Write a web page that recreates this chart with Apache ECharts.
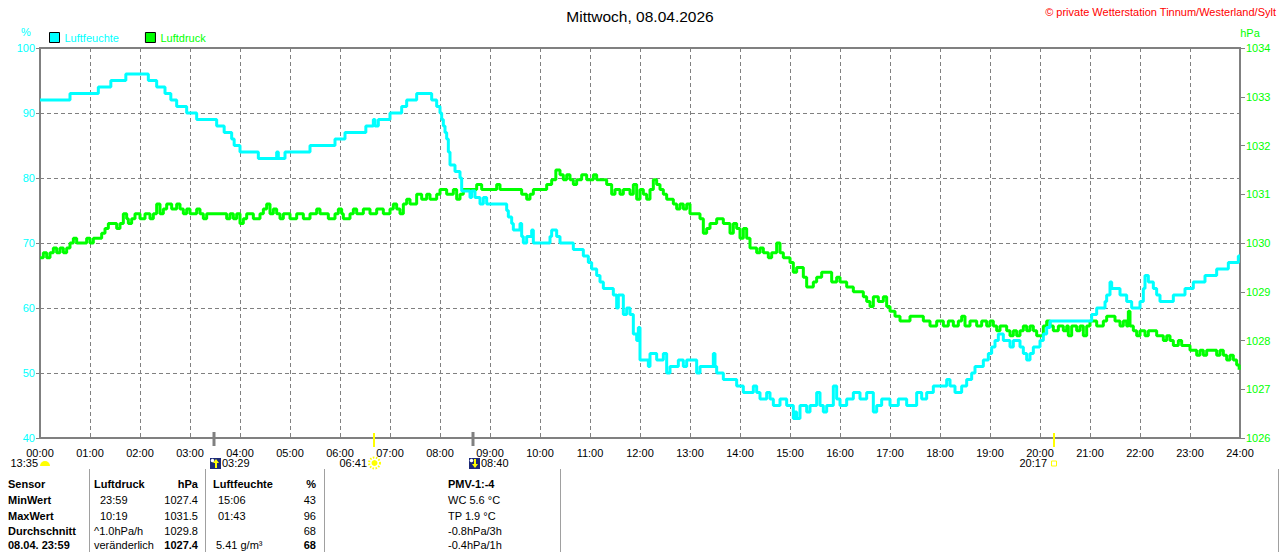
<!DOCTYPE html>
<html>
<head>
    <meta charset="UTF-8"/>
    <script type="text/javascript" src="https://cdn.jsdelivr.net/npm/echarts@6/dist/echarts.min.js"></script>
    <title>Mittwoch, 08.04.2026</title>
    <style>
        html, body { margin: 0; padding: 0; background: #fff; }
        #chart { width: 1280px; height: 552px; }
    </style>
</head>
<body>
<div id="chart"></div>

<script type="application/javascript">
    // x-Achse in Minuten seit 00:00
    var hourLabels = ['00:00', '01:00', '02:00', '03:00', '04:00', '05:00', '06:00', '07:00', '08:00',
        '09:00', '10:00', '11:00', '12:00', '13:00', '14:00', '15:00', '16:00', '17:00', '18:00',
        '19:00', '20:00', '21:00', '22:00', '23:00', '24:00'];

    // Luftfeuchte [Minute, %]
    var humidityData = [[0,92],[36,93],[70,94],[85,95],[103,96],[130,95],[140,94],[150,93],[157,92],[164,91],
        [176,90],[188,89],[212,88],[221,87],[230,86],[233,85],[240,84],[262,83],[284,84],[286,83],[294,84],
        [324,85],[354,86],[366,87],[391,88],[400,89],[402,88],[406,89],[420,90],[434,91],[440,92],[452,93],
        [470,92],[476,91],[480,90],[482,89],[484,88],[486,87],[488,86],[490,84],[492,82],[498,81],[504,80],
        [506,78],[516,77],[518,78],[522,77],[528,76],[532,77],[536,76],[560,75],[562,74],[566,73],[568,72],
        [576,73],[578,71],[580,70],[584,71],[590,72],[592,70],[612,71],[614,72],[620,71],[624,70],[640,69],
        [652,68],[658,67],[662,66],[668,65],[672,64],[676,63],[688,62],[692,60],[694,62],[700,59],[704,60],
        [708,59],[712,56],[716,55],[718,57],[720,52],[730,51],[732,53],[740,52],[748,53],[752,50],[756,51],
        [766,52],[772,51],[776,52],[788,50],[792,51],[808,53],[810,51],[812,50],[820,49],[836,48],[844,47],
        [856,48],[860,47],[864,46],[872,47],[876,46],[880,45],[888,46],[896,45],[904,43],[906,44],[908,43],
        [912,45],[920,44],[924,45],[932,47],[936,45],[940,44],[944,45],[952,48],[956,46],[960,45],[968,46],
        [976,47],[984,46],[992,47],[1000,44],[1004,45],[1010,46],[1020,45],[1030,46],[1040,45],[1052,47],
        [1058,46],[1064,47],[1072,48],[1088,49],[1092,48],[1098,47],[1106,48],[1112,49],[1118,50],[1122,51],
        [1132,52],[1138,53],[1142,54],[1146,55],[1150,56],[1156,55],[1164,54],[1168,55],[1176,54],[1180,53],
        [1184,52],[1188,53],[1192,54],[1200,55],[1204,56],[1208,57],[1212,58],[1262,59],[1268,60],[1278,61],
        [1280,62],[1284,64],[1286,63],[1296,62],[1304,61],[1310,60],[1320,61],[1324,63],[1326,65],[1330,64],
        [1336,63],[1340,62],[1344,61],[1360,62],[1374,63],[1384,64],[1398,65],[1412,66],[1426,67],[1438,68],
        [1440,68]];

    // Luftdruck [Minute, hPa]
    var pressureData = [[0,1029.7],[4,1029.8],[8,1029.7],[12,1029.8],[16,1029.9],[20,1029.8],[24,1029.9],
        [28,1029.8],[32,1029.9],[36,1030.0],[40,1030.1],[44,1030.0],[56,1030.1],[60,1030.0],[64,1030.1],
        [74,1030.2],[78,1030.3],[82,1030.4],[92,1030.3],[96,1030.4],[100,1030.6],[104,1030.5],[106,1030.4],
        [110,1030.5],[114,1030.6],[120,1030.5],[126,1030.6],[132,1030.5],[136,1030.6],[140,1030.8],
        [144,1030.6],[148,1030.7],[152,1030.8],[158,1030.7],[164,1030.8],[168,1030.7],[172,1030.6],
        [176,1030.7],[180,1030.6],[188,1030.7],[192,1030.6],[196,1030.5],[200,1030.6],[224,1030.5],
        [228,1030.6],[232,1030.5],[236,1030.6],[240,1030.4],[244,1030.5],[248,1030.6],[256,1030.5],
        [264,1030.6],[268,1030.7],[272,1030.8],[276,1030.6],[280,1030.7],[284,1030.6],[288,1030.5],
        [292,1030.6],[300,1030.5],[308,1030.6],[316,1030.5],[324,1030.6],[332,1030.7],[336,1030.6],
        [346,1030.5],[354,1030.6],[358,1030.7],[362,1030.6],[364,1030.5],[372,1030.6],[376,1030.7],
        [380,1030.6],[388,1030.7],[396,1030.6],[404,1030.7],[412,1030.6],[420,1030.7],[424,1030.8],
        [428,1030.7],[432,1030.6],[436,1030.8],[440,1030.9],[444,1030.8],[452,1031.0],[458,1030.9],
        [464,1031.0],[468,1030.9],[476,1031.0],[480,1031.1],[488,1031.0],[496,1031.1],[500,1030.9],
        [504,1031.0],[508,1031.1],[524,1031.2],[530,1031.1],[548,1031.2],[552,1031.1],[578,1031.0],
        [584,1030.9],[588,1031.0],[592,1031.1],[608,1031.2],[614,1031.3],[619,1031.5],[624,1031.4],
        [628,1031.3],[632,1031.4],[636,1031.3],[640,1031.2],[644,1031.3],[650,1031.4],[656,1031.3],
        [664,1031.4],[668,1031.3],[680,1031.2],[686,1031.0],[690,1031.1],[696,1031.0],[700,1031.1],
        [708,1031.0],[712,1031.2],[716,1030.9],[720,1031.1],[724,1031.0],[728,1030.9],[732,1031.1],
        [736,1031.3],[740,1031.2],[744,1031.1],[748,1031.0],[752,1030.9],[760,1030.8],[764,1030.7],
        [768,1030.8],[772,1030.7],[776,1030.8],[780,1030.6],[792,1030.5],[796,1030.2],[800,1030.3],
        [804,1030.4],[812,1030.5],[820,1030.4],[828,1030.2],[832,1030.4],[836,1030.3],[840,1030.1],
        [844,1030.3],[848,1030.1],[852,1029.9],[860,1029.8],[864,1029.9],[868,1029.8],[874,1029.7],
        [878,1029.8],[884,1030.0],[888,1029.8],[892,1029.7],[900,1029.6],[904,1029.4],[908,1029.5],
        [916,1029.3],[920,1029.1],[928,1029.2],[932,1029.3],[938,1029.4],[950,1029.2],[956,1029.3],
        [960,1029.2],[968,1029.1],[976,1029.0],[988,1028.9],[992,1028.8],[996,1028.7],[1000,1028.9],
        [1006,1028.8],[1012,1028.9],[1016,1028.7],[1020,1028.6],[1026,1028.5],[1032,1028.4],[1044,1028.5],
        [1060,1028.4],[1068,1028.3],[1076,1028.4],[1084,1028.3],[1090,1028.4],[1096,1028.3],[1102,1028.4],
        [1106,1028.5],[1110,1028.3],[1116,1028.4],[1124,1028.3],[1130,1028.4],[1136,1028.3],[1140,1028.4],
        [1144,1028.3],[1148,1028.2],[1152,1028.3],[1160,1028.2],[1164,1028.1],[1168,1028.2],[1172,1028.1],
        [1176,1028.2],[1180,1028.3],[1184,1028.2],[1188,1028.3],[1192,1028.2],[1196,1028.1],[1204,1028.3],
        [1208,1028.4],[1212,1028.3],[1216,1028.2],[1222,1028.3],[1228,1028.2],[1232,1028.3],[1234,1028.1],
        [1238,1028.3],[1244,1028.2],[1248,1028.3],[1252,1028.1],[1256,1028.3],[1260,1028.4],[1268,1028.3],
        [1276,1028.4],[1280,1028.5],[1290,1028.4],[1296,1028.3],[1300,1028.4],[1304,1028.3],[1306,1028.6],
        [1308,1028.3],[1312,1028.2],[1316,1028.1],[1320,1028.2],[1326,1028.1],[1330,1028.2],[1340,1028.1],
        [1348,1028.0],[1352,1028.1],[1356,1028.0],[1360,1027.9],[1366,1028.0],[1370,1027.9],[1380,1027.8],
        [1388,1027.7],[1392,1027.8],[1396,1027.7],[1400,1027.8],[1412,1027.7],[1416,1027.8],[1420,1027.7],
        [1424,1027.6],[1428,1027.7],[1432,1027.6],[1436,1027.5],[1439,1027.4]];

    // Sonne / Mond
    var dayLength = '13:35';
    var sunTimes = ['06:41', '20:17'];
    var moonTimes = ['03:29', '08:40'];

    // Tabelle unten
    var rowNames = ['MinWert', 'MaxWert', 'Durchschnitt', '08.04. 23:59'];
    var pressureCol = [['23:59', '1027.4'], ['10:19', '1031.5'], ['^1.0hPa/h', '1029.8'], ['veränderlich', '1027.4']];
    var humidityCol = [['15:06', '43'], ['01:43', '96'], ['', '68'], ['5.41 g/m³', '68']];
    var extraCol = ['PMV-1:-4', 'WC 5.6 °C', 'TP 1.9 °C', '-0.8hPa/3h', '-0.4hPa/1h'];

    var FONT = '"Liberation Sans", Arial, sans-serif';
    var CYAN = '#00ffff';
    var GREEN = '#00ff00';
    var GRAY = '#808080';
    var YELLOW = '#ffff00';

    function toMin(t) {
        var p = t.split(':');
        return parseInt(p[0], 10) * 60 + parseInt(p[1], 10);
    }

    var myChart = echarts.init(document.getElementById('chart'), null, {renderer: 'svg'});

    var option = {
        animation: false,
        backgroundColor: '#fff',
        title: {
            text: 'Mittwoch, 08.04.2026',
            left: 'center',
            top: 3,
            textStyle: {color: '#000', fontWeight: 'normal', fontSize: 15.5, fontFamily: FONT}
        },
        legend: {
            left: 44,
            top: 27,
            icon: 'rect',
            itemWidth: 10,
            itemHeight: 10,
            itemGap: 26,
            textStyle: {fontSize: 11, fontFamily: FONT},
            itemStyle: {borderColor: '#000', borderWidth: 1},
            data: [
                {name: 'Luftfeuchte', textStyle: {color: CYAN}},
                {name: 'Luftdruck', textStyle: {color: GREEN}}
            ]
        },
        grid: {
            left: 40, right: 40, top: 48, bottom: 114,
            show: true, borderColor: GRAY, borderWidth: 2
        },
        xAxis: {
            type: 'value',
            min: 0, max: 1440, interval: 60,
            axisLine: {lineStyle: {color: GRAY, width: 2}},
            axisTick: {show: false},
            axisLabel: {
                color: '#000', fontSize: 11, fontFamily: FONT, margin: 9,
                formatter: function (v) { return hourLabels[v / 60]; }
            },
            splitLine: {show: true, lineStyle: {color: GRAY, type: [4, 3], width: 1}}
        },
        yAxis: [
            {
                type: 'value', position: 'left',
                min: 40, max: 100, interval: 10,
                axisLine: {show: true, lineStyle: {color: GRAY, width: 2}},
                axisTick: {show: true, length: 4, lineStyle: {color: GRAY}},
                axisLabel: {color: CYAN, fontSize: 11, fontFamily: FONT, margin: 5,
                    formatter: function (v) { return String(v); }},
                splitLine: {show: true, lineStyle: {color: GRAY, type: [4, 3], width: 1}}
            },
            {
                type: 'value', position: 'right',
                min: 1026, max: 1034, interval: 1,
                axisLine: {show: true, lineStyle: {color: GRAY, width: 2}},
                axisTick: {show: true, length: 5, lineStyle: {color: GRAY}},
                axisLabel: {color: GREEN, fontSize: 11, fontFamily: FONT, margin: 6,
                    formatter: function (v) { return String(v); }},
                splitLine: {show: false}
            }
        ],
        series: [
            {
                name: 'Luftfeuchte',
                type: 'line',
                yAxisIndex: 0,
                step: 'end',
                showSymbol: false,
                symbol: 'none',
                z: 3,
                color: CYAN,
                itemStyle: {color: CYAN},
                lineStyle: {color: CYAN, width: 3},
                data: humidityData
            },
            {
                name: 'Luftdruck',
                type: 'line',
                yAxisIndex: 1,
                step: 'end',
                showSymbol: false,
                symbol: 'none',
                z: 2,
                color: GREEN,
                itemStyle: {color: GREEN},
                lineStyle: {color: GREEN, width: 3},
                data: pressureData
            }
        ]
    };
    myChart.setOption(option);

    // Zusatzelemente: Einheiten, Copyright, Sonne/Mond, Tabelle
    function txt(x, y, text, color, align, bold) {
        return {
            type: 'text', x: x, y: y, silent: true, z: 10,
            style: {
                text: text, fill: color || '#000',
                font: (bold ? 'bold ' : '') + '11px ' + FONT,
                align: align || 'left', verticalAlign: 'middle',
                textAlign: align || 'left', textVerticalAlign: 'middle'
            }
        };
    }

    function vline(x, y1, y2, color, w) {
        return {type: 'line', silent: true, z: 10, shape: {x1: x, y1: y1, x2: x, y2: y2}, style: {stroke: color, lineWidth: w}};
    }

    var axisY = myChart.convertToPixel({yAxisIndex: 0}, 40);
    var iconY = axisY + 25;
    var g = [];

    g.push(txt(26, 32, '%', CYAN, 'center'));
    g.push(txt(1250, 33, 'hPa', GREEN, 'center'));
    g.push(txt(1276, 12, '© private Wetterstation Tinnum/Westerland/Sylt', '#ff0000', 'right'));

    // Tageslänge
    g.push(txt(38, iconY, dayLength, '#000', 'right'));
    g.push({type: 'sector', silent: true, z: 10, shape: {cx: 45, cy: iconY + 3, r0: 0, r: 5, startAngle: Math.PI, endAngle: Math.PI * 2}, style: {fill: YELLOW}});

    // Sonnenaufgang / -untergang
    sunTimes.forEach(function (t, i) {
        var x = Math.round(myChart.convertToPixel({xAxisIndex: 0}, toMin(t)));
        g.push(vline(x, axisY - 5, axisY + 9, YELLOW, 2));
        g.push(txt(x - 7, iconY, t, '#000', 'right'));
        if (i === 0) {
            g.push({type: 'circle', silent: true, z: 10, shape: {cx: x + 0.5, cy: iconY, r: 3}, style: {fill: YELLOW}});
            g.push({type: 'circle', silent: true, z: 10, shape: {cx: x + 0.5, cy: iconY, r: 5.5}, style: {fill: null, stroke: YELLOW, lineWidth: 2, lineDash: [1.5, 1.5]}});
        } else {
            g.push({type: 'rect', silent: true, z: 10, shape: {x: x - 2.5, y: iconY - 2, width: 5, height: 5}, style: {fill: null, stroke: YELLOW, lineWidth: 1}});
        }
    });

    // Mondaufgang / -untergang
    moonTimes.forEach(function (t, i) {
        var x = Math.round(myChart.convertToPixel({xAxisIndex: 0}, toMin(t)));
        g.push(vline(x, axisY - 6, axisY + 8, GRAY, 3));
        g.push({type: 'rect', silent: true, z: 10, shape: {x: x - 4, y: iconY - 5, width: 11, height: 11}, style: {fill: '#1c2a78'}});
        g.push({type: 'circle', silent: true, z: 11, shape: {cx: x - 1.5, cy: iconY - 2.5, r: 1.8}, style: {fill: '#fff'}});
        var up = i === 0;
        var ax = x + 2;
        g.push({type: 'polygon', silent: true, z: 11, shape: {points: up ?
            [[ax, iconY - 4], [ax + 3, iconY], [ax + 1, iconY], [ax + 1, iconY + 5], [ax - 1, iconY + 5], [ax - 1, iconY], [ax - 3, iconY]] :
            [[ax, iconY + 5], [ax + 3, iconY + 1], [ax + 1, iconY + 1], [ax + 1, iconY - 4], [ax - 1, iconY - 4], [ax - 1, iconY + 1], [ax - 3, iconY + 1]]
        }, style: {fill: YELLOW}});
        g.push(txt(x + 8, iconY, t, '#000', 'left'));
    });

    // Tabelle
    var rowY = [484, 500, 515.5, 531, 545];
    [89, 205, 324, 560, 1278].forEach(function (x) {
        g.push(vline(x + 0.5, 469, 552, '#a0a0a0', 1));
    });
    g.push(txt(8, rowY[0], 'Sensor', '#000', 'left', true));
    g.push(txt(94, rowY[0], 'Luftdruck', '#000', 'left', true));
    g.push(txt(198, rowY[0], 'hPa', '#000', 'right', true));
    g.push(txt(213, rowY[0], 'Luftfeuchte', '#000', 'left', true));
    g.push(txt(316, rowY[0], '%', '#000', 'right', true));
    rowNames.forEach(function (name, i) {
        var y = rowY[i + 1];
        var last = i === rowNames.length - 1;
        g.push(txt(8, y, name, '#000', 'left', true));
        var pLeft = pressureCol[i][0].indexOf(':') > 0 ? 100 : 94;
        g.push(txt(pLeft, y, pressureCol[i][0], '#000', 'left'));
        g.push(txt(198, y, pressureCol[i][1], '#000', 'right', last));
        var hLeft = humidityCol[i][0].indexOf(':') > 0 ? 218 : 216;
        g.push(txt(hLeft, y, humidityCol[i][0], '#000', 'left'));
        g.push(txt(316, y, humidityCol[i][1], '#000', 'right', last));
    });
    extraCol.forEach(function (s, i) {
        g.push(txt(448, rowY[i], s, '#000', 'left', i === 0));
    });

    myChart.setOption({graphic: g});
</script>

</body>
</html>
